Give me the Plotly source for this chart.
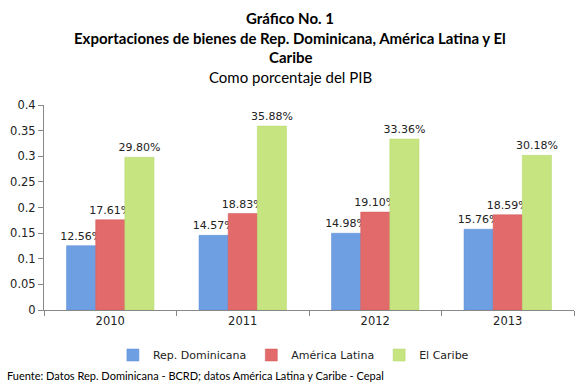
import plotly.graph_objects as go

years = ["2010", "2011", "2012", "2013"]
rep_dom = [0.1256, 0.1457, 0.1498, 0.1576]
am_lat = [0.1761, 0.1883, 0.1910, 0.1859]
caribe = [0.2980, 0.3588, 0.3336, 0.3018]
series_names = ["Rep. Dominicana", "América Latina", "El Caribe"]
y_ticks = [0, 0.05, 0.1, 0.15, 0.2, 0.25, 0.3, 0.35, 0.4]
y_tick_text = ["0", "0.05", "0.1", "0.15", "0.2", "0.25", "0.3", "0.35", "0.4"]

colors = ["#6F9FE3", "#E26A6A", "#C6E580"]
lines = ["#5A8CD4", "#D45858", "#B2D468"]

fig = go.Figure()
for name, vals, c, lc in zip(series_names, [rep_dom, am_lat, caribe], colors, lines):
    fig.add_trace(go.Bar(
        x=years, y=vals, name=name,
        marker=dict(color=c, line=dict(color=lc, width=0.5)),
        text=[f"{v*100:.2f}%" for v in vals],
        textposition="outside",
        constraintext="none",
        textfont=dict(family="DejaVu Sans", size=11, color="#222"),
        cliponaxis=False,
    ))

H = 205.0
def py(pix):
    return (310 - pix) / H

title_font = dict(family="Lato", size=15, color="#000")
titles = [("<b>Gráfico No. 1</b>", 18),
          ("<b>Exportaciones de bienes de Rep. Dominicana, América Latina y El</b>", 38),
          ("<b>Caribe</b>", 57),
          ("Como porcentaje del PIB", 77)]
anns = []
for t, ypix in titles:
    anns.append(dict(text=t, x=(290 - 44) / 530.0, xref="paper", xanchor="center",
                     y=py(ypix), yref="paper", yanchor="middle", showarrow=False, font=title_font))
anns.append(dict(text="Fuente: Datos Rep. Dominicana - BCRD; datos América Latina y Caribe - Cepal",
                 x=(5 - 44) / 530.0, xref="paper", xanchor="left",
                 y=py(375), yref="paper", yanchor="middle", showarrow=False,
                 font=dict(family="Lato", size=11, color="#000")))

fig.update_layout(
    width=581, height=387,
    margin=dict(l=44, r=7, t=105, b=77, autoexpand=False),
    paper_bgcolor="white", plot_bgcolor="white",
    barmode="group", bargap=0.34, bargroupgap=0,
    showlegend=True,
    legend=dict(orientation="h", x=0.505, xref="container", xanchor="center",
                y=1 - 355 / 387.0, yref="container", yanchor="middle",
                font=dict(family="DejaVu Sans", size=11, color="#222"),
                itemwidth=30, traceorder="normal"),
    xaxis=dict(showline=True, linecolor="#888", ticks="outside", tickson="boundaries",
               ticklen=5, tickcolor="#888", showgrid=False,
               tickfont=dict(family="DejaVu Sans", size=11.5, color="#222")),
    yaxis=dict(range=[0, 0.4], tickvals=y_ticks, ticktext=y_tick_text,
               showline=True, linecolor="#888", ticks="outside", ticklen=5, tickcolor="#888",
               showgrid=False, zeroline=False,
               tickfont=dict(family="DejaVu Sans", size=11.5, color="#222")),
    annotations=anns,
)

fig.write_html("out.html", config={"displayModeBar": False},
               post_script="document.body.style.margin='0';")
